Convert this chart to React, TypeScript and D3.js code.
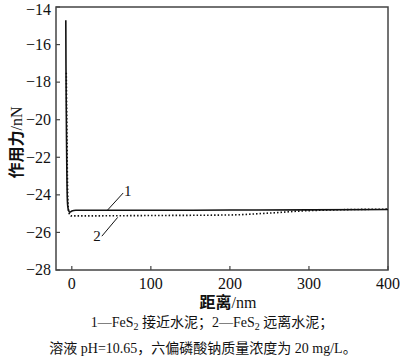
import React from "react";
import { scaleLinear, line, curveMonotoneX } from "d3";

const width = 400;
const height = 360;
const margin = { left: 56, right: 12, top: 7, bottom: 90 };

const xTicks = [0, 100, 200, 300, 400];
const yTicks = [-14, -16, -18, -20, -22, -24, -26, -28];

// curve 1: FeS2 approaching cement (solid)
const series1: [number, number][] = [
  [-7.6, -14.7],
  [-7.4, -17],
  [-7.1, -19],
  [-6.7, -21],
  [-6.2, -23],
  [-5.6, -24.3],
  [-4.6, -24.75],
  [-2.5, -24.92],
  [0, -24.86],
  [5, -24.82],
  [50, -24.82],
  [100, -24.82],
  [200, -24.81],
  [300, -24.8],
  [400, -24.78],
];

// curve 2: FeS2 moving away from cement (dotted)
const series2: [number, number][] = [
  [-7.0, -17.5],
  [-6.6, -19],
  [-6.1, -21],
  [-5.6, -23],
  [-4.9, -24.4],
  [-3.6, -24.95],
  [-1, -25.12],
  [5, -25.12],
  [100, -25.1],
  [200, -25.07],
  [250, -24.97],
  [300, -24.84],
  [400, -24.76],
];

const fontLatin = "'Liberation Serif', 'Noto Sans CJK SC', serif";
const fontCjk = "'Liberation Serif', 'Noto Sans CJK SC', serif";

export default function App() {
  const x = scaleLinear()
    .domain([-20, 400])
    .range([margin.left, width - margin.right]);
  const y = scaleLinear()
    .domain([-28, -14])
    .range([height - margin.bottom, margin.top]);

  const path = line<[number, number]>()
    .x((d) => x(d[0]))
    .y((d) => y(d[1]))
    .curve(curveMonotoneX);

  const axisColor = "#444";
  const x0 = x.range()[0];
  const x1 = x.range()[1];
  const y0 = y.range()[0];
  const y1 = y.range()[1];

  return (
    <div style={{ position: "absolute", left: 0, top: 0 }}>
      <svg width={width} height={height} style={{ background: "#fff", display: "block" }}>
        {/* frame */}
        <rect
          x={x0}
          y={y1}
          width={x1 - x0}
          height={y0 - y1}
          fill="none"
          stroke={axisColor}
          strokeWidth={1.5}
        />
        {/* y ticks */}
        {yTicks.map((t) => (
          <g key={t}>
            <line x1={x0} x2={x0 + 4} y1={y(t)} y2={y(t)} stroke={axisColor} strokeWidth={1.2} />
            <text
              x={x0 - 5}
              y={Math.max(y(t), 9.5)}
              dy="0.33em"
              textAnchor="end"
              fontSize={16}
              fontFamily={fontLatin}
              fill="#111"
            >
              {"\u2212" + Math.abs(t)}
            </text>
          </g>
        ))}
        {/* x ticks */}
        {xTicks.map((t) => (
          <g key={t}>
            <line x1={x(t)} x2={x(t)} y1={y0} y2={y0 - 4} stroke={axisColor} strokeWidth={1.2} />
            <text
              x={x(t)}
              y={y0 + 19}
              textAnchor="middle"
              fontSize={16}
              fontFamily={fontLatin}
              fill="#111"
            >
              {t}
            </text>
          </g>
        ))}

        {/* curves */}
        <path d={path(series2) ?? ""} fill="none" stroke="#111" strokeWidth={1.6} strokeDasharray="1.5 2" />
        <path d={path(series1) ?? ""} fill="none" stroke="#111" strokeWidth={1.6} />

        {/* curve labels */}
        <line x1={x(45)} y1={y(-24.82)} x2={x(65)} y2={y(-23.9)} stroke="#111" strokeWidth={1} />
        <text x={x(66)} y={y(-24.05)} fontSize={15} fontFamily={fontLatin} fill="#111">
          1
        </text>
        <line x1={x(38)} y1={y(-26.2)} x2={x(58)} y2={y(-25.2)} stroke="#111" strokeWidth={1} />
        <text x={x(27)} y={y(-26.45)} fontSize={15} fontFamily={fontLatin} fill="#111">
          2
        </text>

        {/* axis titles */}
        <text
          transform={`translate(16, ${(y0 + y1) / 2 + 4}) rotate(-90)`}
          textAnchor="middle"
          dy="0.35em"
          fontSize={16}
          fontFamily={fontCjk}
          fill="#111"
        >
          <tspan fontWeight="bold">作用力</tspan>/nN
        </text>
        <text
          x={(x0 + x1) / 2 + 6}
          y={y0 + 38}
          textAnchor="middle"
          fontSize={16}
          fontFamily={fontCjk}
          fill="#111"
        >
          <tspan fontWeight="bold">距离</tspan>/nm
        </text>

        {/* caption */}
        <text x={width / 2 + 12} y={327} textAnchor="middle" fontSize={14} fontFamily={fontCjk} fill="#111">
          1—FeS
          <tspan fontSize={10} dy={3}>2</tspan>
          <tspan dy={-3}> 接近水泥；2—FeS</tspan>
          <tspan fontSize={10} dy={3}>2</tspan>
          <tspan dy={-3}> 远离水泥；</tspan>
        </text>
        <text x={width / 2 + 3} y={353} textAnchor="middle" fontSize={14} fontFamily={fontCjk} fill="#111">
          溶液 pH=10.65，六偏磷酸钠质量浓度为 20 mg/L。
        </text>
      </svg>
    </div>
  );
}
